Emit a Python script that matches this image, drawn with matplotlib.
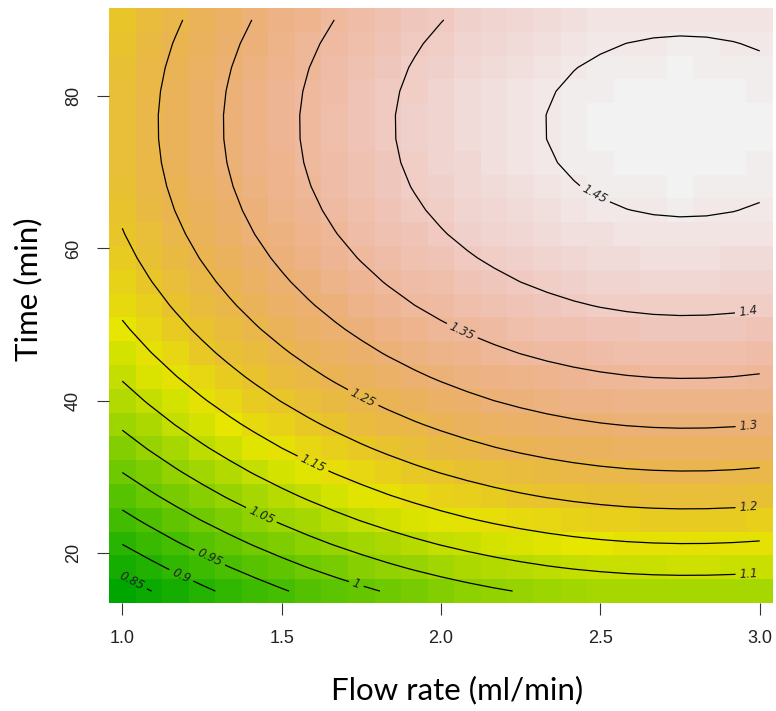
import numpy as np
import matplotlib
matplotlib.use("Agg")
import matplotlib.pyplot as plt
from matplotlib.colors import ListedColormap, hsv_to_rgb

# fitted quadratic response surface: z = b0 + b1*x + b2*t + b11*x^2 + b22*t^2 + b12*x*t
b0, b1, b2 = 0.24830701, 0.43876734, 0.016063609
b11, b22, b12 = -0.078881065, -0.00010496825, -3.7752055e-05

flow = np.linspace(1.0, 3.0, 25)      # ml/min
time = np.linspace(15.0, 90.0, 25)    # min
levels = [0.85, 0.9, 0.95, 1.0, 1.05, 1.1, 1.15, 1.2, 1.25, 1.3, 1.35, 1.4, 1.45]
# flow value where each level gets its label
label_flow = [1.03, 1.185, 1.274, 1.734, 1.436, 2.966, 1.598, 2.966, 1.755, 2.966, 2.066, 2.964, 2.48]


def surface(x, t):
    return b0 + b1*x + b2*t + b11*x**2 + b22*t**2 + b12*x*t


def terrain_colors(n):
    # same as R's terrain.colors()
    k = n // 2
    h1 = np.linspace(4/12, 2/12, k); s1 = np.linspace(1, 1, k); v1 = np.linspace(0.65, 0.9, k)
    h2 = np.linspace(2/12, 0, n - k + 1)[1:]
    s2 = np.linspace(1, 0, n - k + 1)[1:]
    v2 = np.linspace(0.9, 0.95, n - k + 1)[1:]
    hsv = np.column_stack([np.r_[h1, h2], np.r_[s1, s2], np.r_[v1, v2]])
    return ListedColormap(hsv_to_rgb(hsv))


X, T = np.meshgrid(flow, time)
Z = surface(X, T)

fig = plt.figure(figsize=(7.76, 7.11), dpi=100)
ax = fig.add_axes([109/776, 1 - 603/711, 664/776, 595/711])

ax.pcolormesh(X, T, Z, shading='nearest', cmap=terrain_colors(100),
              vmin=Z.min(), vmax=Z.max())
cs = ax.contour(X, T, Z, levels=levels, colors='black', linewidths=0.9)

# label positions: lower crossing of each level at the chosen flow
pos = []
for lev, xf in zip(levels, label_flow):
    a = b22
    b = b2 + b12*xf
    c = b0 + b1*xf + b11*xf**2 - lev
    d = np.sqrt(b*b - 4*a*c)
    pos.append((xf, min((-b + d) / (2*a), (-b - d) / (2*a))))
lbls = ax.clabel(cs, fmt=lambda v: f"{v:g}", manual=pos, fontsize=8.5,
                 inline=True, inline_spacing=4, colors='#222222')
for l in lbls:
    l.set_style('italic')

ax.set_xlim(1 - 1/24, 3 + 1/24)
ax.set_ylim(15 - 75/48, 90 + 75/48)
ax.set_xticks([1.0, 1.5, 2.0, 2.5, 3.0])
ax.set_xticklabels(["1.0", "1.5", "2.0", "2.5", "3.0"])
ax.set_yticks([20, 40, 60, 80])
for s in ax.spines.values():
    s.set_visible(False)
ax.tick_params(axis='both', length=8.5, width=0.8, color='#333333',
               labelsize=13, labelcolor='#222222', pad=11)
for lab in ax.get_xticklabels() + ax.get_yticklabels():
    lab.set_family('Liberation Sans')
for lab in ax.get_yticklabels():
    lab.set_rotation(90)
    lab.set_va('center')

fig.text(457/776, 1 - 690/711, "Flow rate (ml/min)", fontsize=22.5, family='Lato',
         ha='center', va='center')
fig.text(28/776, 1 - 289/711, "Time (min)", fontsize=22.5, family='Lato',
         ha='center', va='center', rotation=90)

plt.savefig("out.png", dpi=100)
